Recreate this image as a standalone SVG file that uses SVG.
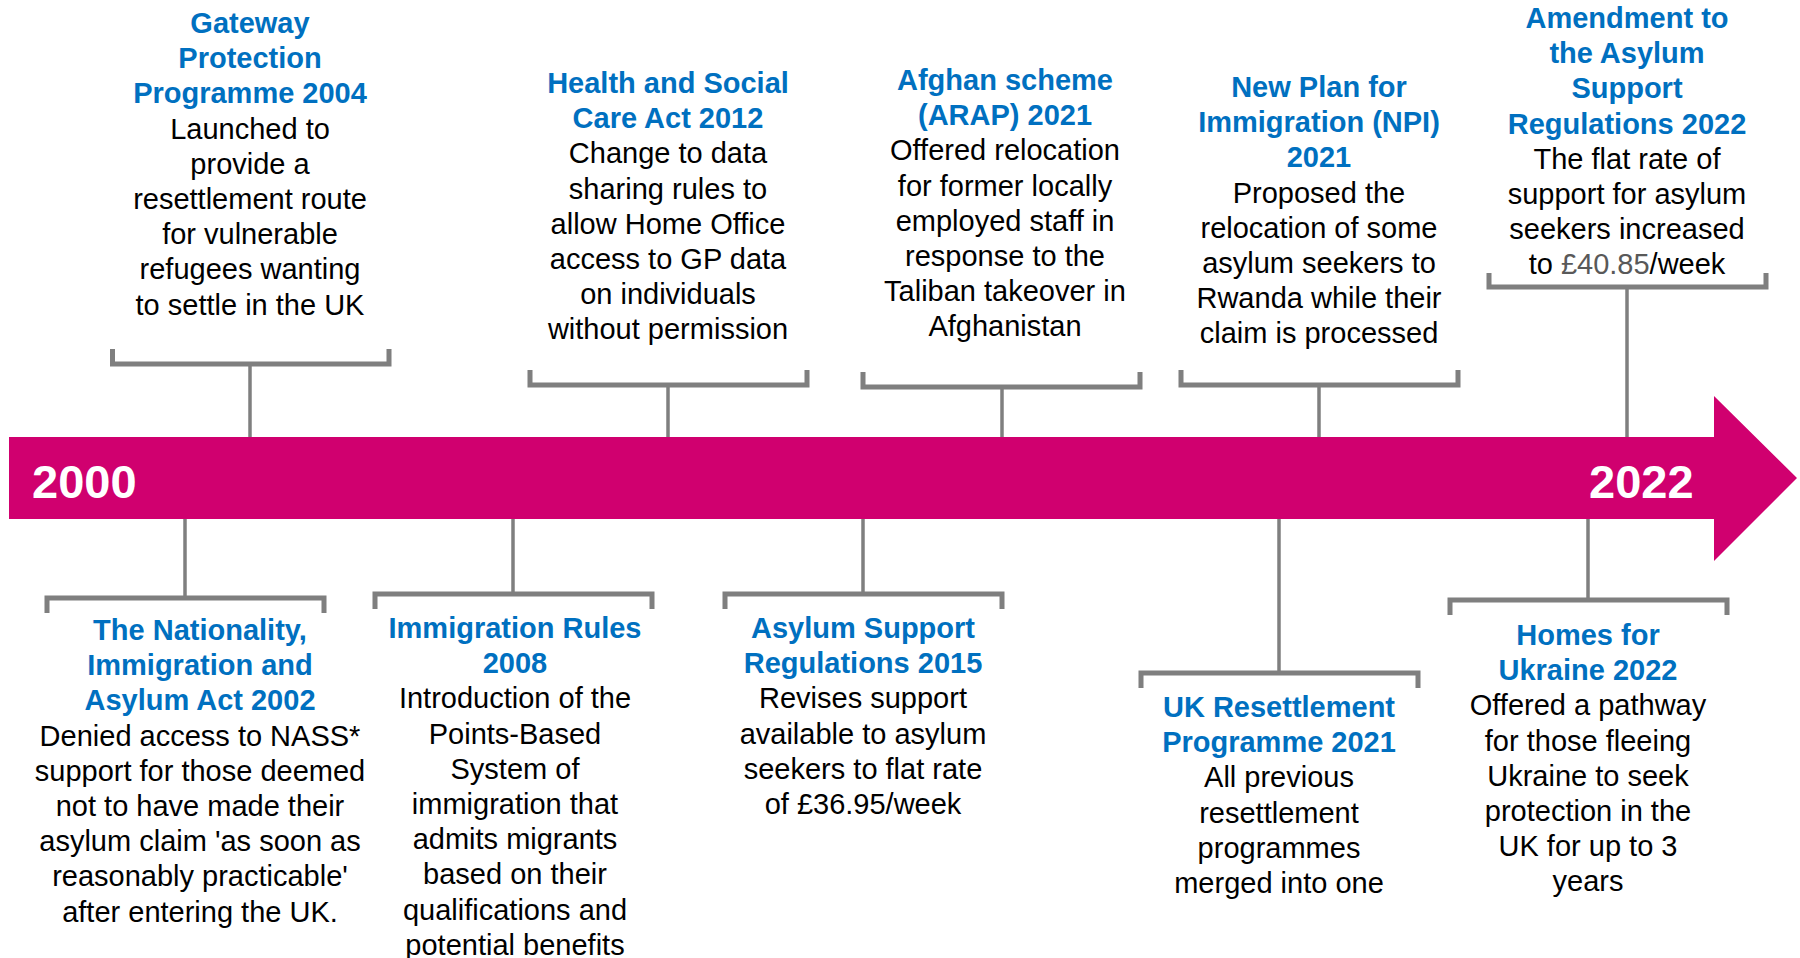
<svg xmlns="http://www.w3.org/2000/svg" width="1800" height="958" viewBox="0 0 1800 958">
<style>
text{font-family:"Liberation Sans",Arial,sans-serif;font-size:29px;text-anchor:middle;fill:#000}
.t{font-weight:bold;fill:#0070C0}
.yr{font-weight:bold;font-size:47px;fill:#fff;text-anchor:start}
.br{fill:none;stroke:#7F7F7F;stroke-width:5;stroke-linejoin:miter}
.st{stroke:#7F7F7F;stroke-width:3.5}
.g{fill:#595959}
</style>
<rect width="1800" height="958" fill="#fff"/>
<g id="timeline">
<polygon points="9,437 1714,437 1714,396 1797,478 1714,561 1714,519 9,519" fill="#D0006F"/>
<text class="yr" x="32" y="498">2000</text>
<text class="yr" x="1589" y="498">2022</text>
</g>
<g id="connectors">
<path class="br" d="M112.5,349V364H389V349"/><line class="st" x1="250" y1="364" x2="250" y2="437"/>
<path class="br" d="M530,370V385H807V370"/><line class="st" x1="668" y1="385" x2="668" y2="437"/>
<path class="br" d="M863,372V387H1140V372"/><line class="st" x1="1002" y1="387" x2="1002" y2="437"/>
<path class="br" d="M1181,370V385H1458V370"/><line class="st" x1="1319" y1="385" x2="1319" y2="437"/>
<path class="br" d="M1489,273V287H1766V273"/><line class="st" x1="1627" y1="287" x2="1627" y2="437"/>
<path class="br" d="M47,613V598H324V613"/><line class="st" x1="185" y1="519" x2="185" y2="598"/>
<path class="br" d="M375,609V594H652V609"/><line class="st" x1="513" y1="519" x2="513" y2="594"/>
<path class="br" d="M725,609V594H1002V609"/><line class="st" x1="863" y1="519" x2="863" y2="594"/>
<path class="br" d="M1141,688V673H1418V688"/><line class="st" x1="1279" y1="519" x2="1279" y2="673"/>
<path class="br" d="M1450,615V600H1727V615"/><line class="st" x1="1588" y1="519" x2="1588" y2="600"/>
</g>
<g id="gateway">
<text x="250" y="33"><tspan class="t" x="250">Gateway</tspan><tspan class="t" x="250" dy="35.2">Protection</tspan><tspan class="t" x="250" dy="35.2">Programme 2004</tspan><tspan x="250" dy="35.2">Launched to</tspan><tspan x="250" dy="35.2">provide a</tspan><tspan x="250" dy="35.2">resettlement route</tspan><tspan x="250" dy="35.2">for vulnerable</tspan><tspan x="250" dy="35.2">refugees wanting</tspan><tspan x="250" dy="35.2">to settle in the UK</tspan></text>
</g>
<g id="health">
<text x="668" y="93"><tspan class="t" x="668">Health and Social</tspan><tspan class="t" x="668" dy="35.2">Care Act 2012</tspan><tspan x="668" dy="35.2">Change to data</tspan><tspan x="668" dy="35.2">sharing rules to</tspan><tspan x="668" dy="35.2">allow Home Office</tspan><tspan x="668" dy="35.2">access to GP data</tspan><tspan x="668" dy="35.2">on individuals</tspan><tspan x="668" dy="35.2">without permission</tspan></text>
</g>
<g id="afghan">
<text x="1005" y="90"><tspan class="t" x="1005">Afghan scheme</tspan><tspan class="t" x="1005" dy="35.2">(ARAP) 2021</tspan><tspan x="1005" dy="35.2">Offered relocation</tspan><tspan x="1005" dy="35.2">for former locally</tspan><tspan x="1005" dy="35.2">employed staff in</tspan><tspan x="1005" dy="35.2">response to the</tspan><tspan x="1005" dy="35.2">Taliban takeover in</tspan><tspan x="1005" dy="35.2">Afghanistan</tspan></text>
</g>
<g id="npi">
<text x="1319" y="97"><tspan class="t" x="1319">New Plan for</tspan><tspan class="t" x="1319" dy="35.2">Immigration (NPI)</tspan><tspan class="t" x="1319" dy="35.2">2021</tspan><tspan x="1319" dy="35.2">Proposed the</tspan><tspan x="1319" dy="35.2">relocation of some</tspan><tspan x="1319" dy="35.2">asylum seekers to</tspan><tspan x="1319" dy="35.2">Rwanda while their</tspan><tspan x="1319" dy="35.2">claim is processed</tspan></text>
</g>
<g id="amendment">
<text x="1627" y="28"><tspan class="t" x="1627">Amendment to</tspan><tspan class="t" x="1627" dy="35.2">the Asylum</tspan><tspan class="t" x="1627" dy="35.2">Support</tspan><tspan class="t" x="1627" dy="35.2">Regulations 2022</tspan><tspan x="1627" dy="35.2">The flat rate of</tspan><tspan x="1627" dy="35.2">support for asylum</tspan><tspan x="1627" dy="35.2">seekers increased</tspan><tspan x="1627" dy="35.2">to <tspan class="g">£40.85</tspan>/week</tspan></text>
</g>
<g id="nationality">
<text x="200" y="640"><tspan class="t" x="200">The Nationality,</tspan><tspan class="t" x="200" dy="35.2">Immigration and</tspan><tspan class="t" x="200" dy="35.2">Asylum Act 2002</tspan><tspan x="200" dy="35.2">Denied access to NASS*</tspan><tspan x="200" dy="35.2">support for those deemed</tspan><tspan x="200" dy="35.2">not to have made their</tspan><tspan x="200" dy="35.2">asylum claim 'as soon as</tspan><tspan x="200" dy="35.2">reasonably practicable'</tspan><tspan x="200" dy="35.2">after entering the UK.</tspan></text>
</g>
<g id="immigration-rules">
<text x="515" y="638"><tspan class="t" x="515">Immigration Rules</tspan><tspan class="t" x="515" dy="35.2">2008</tspan><tspan x="515" dy="35.2">Introduction of the</tspan><tspan x="515" dy="35.2">Points-Based</tspan><tspan x="515" dy="35.2">System of</tspan><tspan x="515" dy="35.2">immigration that</tspan><tspan x="515" dy="35.2">admits migrants</tspan><tspan x="515" dy="35.2">based on their</tspan><tspan x="515" dy="35.2">qualifications and</tspan><tspan x="515" dy="35.2">potential benefits</tspan></text>
</g>
<g id="asylum-2015">
<text x="863" y="638"><tspan class="t" x="863">Asylum Support</tspan><tspan class="t" x="863" dy="35.2">Regulations 2015</tspan><tspan x="863" dy="35.2">Revises support</tspan><tspan x="863" dy="35.2">available to asylum</tspan><tspan x="863" dy="35.2">seekers to flat rate</tspan><tspan x="863" dy="35.2">of £36.95/week</tspan></text>
</g>
<g id="uk-resettlement">
<text x="1279" y="717"><tspan class="t" x="1279">UK Resettlement</tspan><tspan class="t" x="1279" dy="35.2">Programme 2021</tspan><tspan x="1279" dy="35.2">All previous</tspan><tspan x="1279" dy="35.2">resettlement</tspan><tspan x="1279" dy="35.2">programmes</tspan><tspan x="1279" dy="35.2">merged into one</tspan></text>
</g>
<g id="homes-ukraine">
<text x="1588" y="645"><tspan class="t" x="1588">Homes for</tspan><tspan class="t" x="1588" dy="35.2">Ukraine 2022</tspan><tspan x="1588" dy="35.2">Offered a pathway</tspan><tspan x="1588" dy="35.2">for those fleeing</tspan><tspan x="1588" dy="35.2">Ukraine to seek</tspan><tspan x="1588" dy="35.2">protection in the</tspan><tspan x="1588" dy="35.2">UK for up to 3</tspan><tspan x="1588" dy="35.2">years</tspan></text>
</g>
</svg>
